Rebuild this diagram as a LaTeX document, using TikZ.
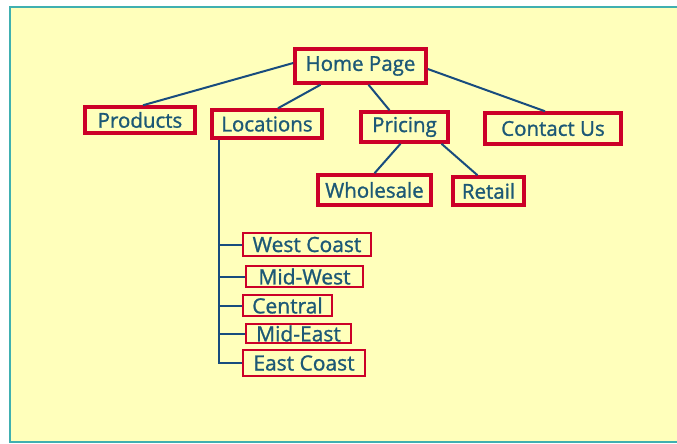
\documentclass[tikz,border=0pt]{standalone}
\usepackage{fontspec}
\setmainfont{Open Sans}[FakeBold=1.2]
\usetikzlibrary{calc}
\definecolor{bgyellow}{RGB}{255,255,187}
\definecolor{frameteal}{RGB}{64,176,176}
\definecolor{boxred}{RGB}{204,0,40}
\definecolor{txtblue}{RGB}{28,88,118}
\definecolor{linkblue}{RGB}{24,76,126}
\tikzset{
  topbox/.style={draw=boxred, line width=3.5pt, fill=bgyellow, text=txtblue, inner sep=0pt,
    font=\fontsize{20.5}{23}\selectfont},
  locbox/.style={draw=boxred, line width=2pt, fill=bgyellow, text=txtblue, inner sep=0pt,
    font=\fontsize{21}{23}\selectfont},
  link/.style={draw=linkblue, line width=2pt},
}
\begin{document}
\begin{tikzpicture}[x=1pt,y=-1pt]
\useasboundingbox (0,0) rectangle (677,444);
\path[fill=bgyellow, draw=frameteal, line width=1.5pt] (10,7) rectangle (690,442);
% nodes
\node[topbox, minimum width=131, minimum height=34] (home) at (360.5,66) {Home Page};
\node[topbox, minimum width=110, minimum height=26] (products) at (140,120) {Products};
\node[topbox, minimum width=110, minimum height=28] (locations) at (267,124) {Locations};
\node[topbox, minimum width=87, minimum height=30] (pricing) at (404.5,127) {Pricing};
\node[topbox, minimum width=136, minimum height=31] (contact) at (553,128.5) {Contact Us};
\node[topbox, minimum width=113, minimum height=30] (wholesale) at (374.5,190) {Wholesale};
\node[topbox, minimum width=71, minimum height=28] (retail) at (488.5,191) {Retail};
\node[locbox, minimum width=128, minimum height=23] (westcoast) at (307,244.5) {West Coast};
\node[locbox, minimum width=117, minimum height=21] (midwest) at (304.5,276.5) {Mid-West};
\node[locbox, minimum width=89, minimum height=21] (central) at (287.5,305.5) {Central};
\node[locbox, minimum width=105, minimum height=19] (mideast) at (298.5,333.5) {Mid-East};
\node[locbox, minimum width=122, minimum height=26] (eastcoast) at (304,363) {East Coast};
% connectors
\draw[link] ($(home.west)+(0,-3)$) -- ($(products.north)+(3,0)$);
\draw[link] ($(home.south)+(-40,0)$) -- ($(locations.north)+(11,0)$);
\draw[link] ($(home.south)+(8,0)$) -- ($(pricing.north)+(-15,0)$);
\draw[link] ($(home.east)+(0,3)$) -- ($(contact.north)+(-8,0)$);
\draw[link] ($(pricing.south)+(-4,0)$) -- (wholesale.north);
\draw[link] ($(pricing.south)+(37,0)$) -- ($(retail.north)+(-11,0)$);
\coordinate (spinetop) at ($(locations.south west)+(9,0)$);
\draw[link] (spinetop) -- (spinetop |- eastcoast.west) -- (eastcoast.west);
\draw[link] (spinetop |- westcoast.west) -- (westcoast.west);
\draw[link] (spinetop |- midwest.west) -- (midwest.west);
\draw[link] (spinetop |- central.west) -- (central.west);
\draw[link] (spinetop |- mideast.west) -- (mideast.west);
\end{tikzpicture}
\end{document}
